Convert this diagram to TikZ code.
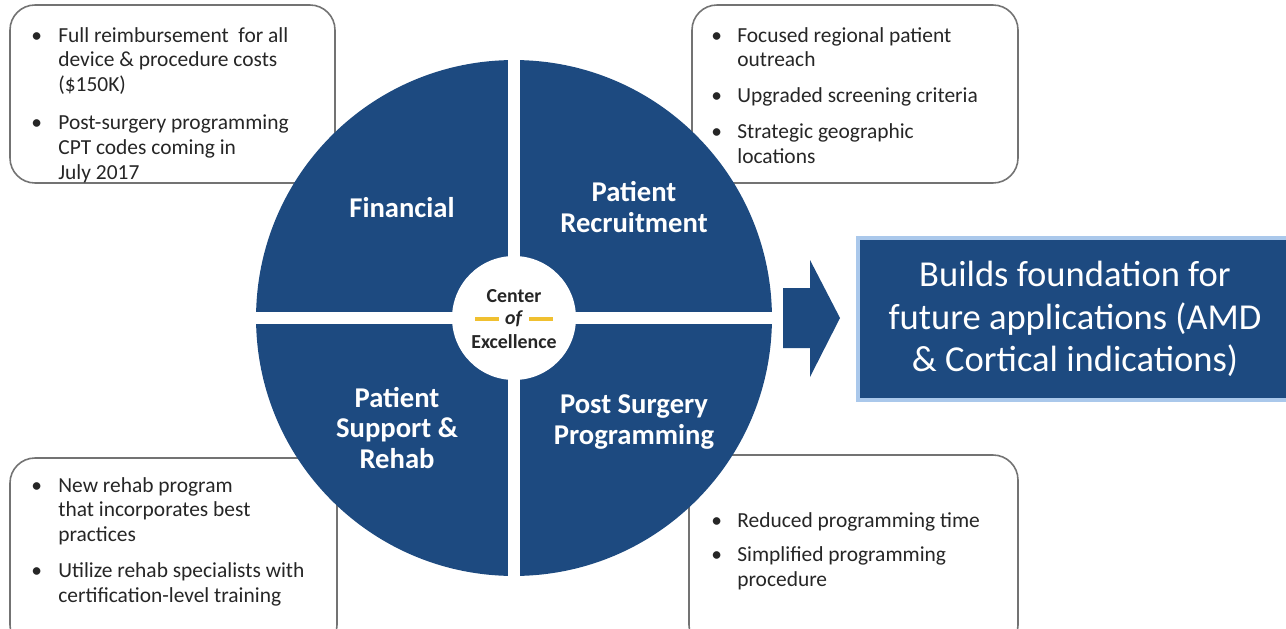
\documentclass[tikz,border=0pt]{standalone}
\usepackage{fontspec}
\setmainfont{Carlito}
\definecolor{coeblue}{RGB}{29,74,128}
\definecolor{coegold}{RGB}{240,192,48}
\definecolor{coeglow}{RGB}{170,200,235}
\begin{document}
\begin{tikzpicture}[x=0.02cm,y=-0.02cm,
	infobox/.style={draw=black!55,line width=0.9pt,fill=white,rounded corners=0.5cm},
	quarter/.style={text=white,font=\fontsize{16.3}{17.6}\selectfont\bfseries,align=center},
	bullets/.style={anchor=base west,inner sep=0pt,text=black!85,font=\fontsize{12.2}{14.2}\selectfont},
	coetext/.style={inner sep=0pt,text=black!85,font=\fontsize{11.3}{12}\selectfont\bfseries}]
	\useasboundingbox (0,0) rectangle (1286,629);
	\fill[white] (0,0) rectangle (1286,629);

	% boxes with bullet points
	\draw[infobox] (10,5) rectangle (335,183);
	\draw[infobox] (692,5) rectangle (1018,183);
	\draw[infobox] (10,458) rectangle (337,650);
	\draw[infobox] (689,455) rectangle (1018,650);

	\node[bullets] (finlist) at (31,42) {\begin{tabular}[t]{@{}p{0.54cm}@{}l@{}}
		\textbullet & Full reimbursement\ \ for all\\
		& device \& procedure costs\\
		& (\$150K)\\[0.26cm]
		\textbullet & Post-surgery programming\\
		& CPT codes coming in\\
		& July 2017
	\end{tabular}};
	\node[bullets] (reclist) at (711,42) {\begin{tabular}[t]{@{}p{0.52cm}@{}l@{}}
		\textbullet & Focused regional patient\\
		& outreach\\[0.22cm]
		\textbullet & Upgraded screening criteria\\[0.22cm]
		\textbullet & Strategic geographic\\
		& locations
	\end{tabular}};
	\node[bullets] (rehablist) at (31,492) {\begin{tabular}[t]{@{}p{0.54cm}@{}l@{}}
		\textbullet & New rehab program\\
		& that incorporates best\\
		& practices\\[0.22cm]
		\textbullet & Utilize rehab specialists with\\
		& certification-level training
	\end{tabular}};
	\node[bullets] (proglist) at (711,527) {\begin{tabular}[t]{@{}p{0.52cm}@{}l@{}}
		\textbullet & Reduced programming time\\[0.2cm]
		\textbullet & Simplified programming\\
		& procedure
	\end{tabular}};

	% the big circle in four parts
	\fill[coeblue] (514,318) circle (5.16cm);
	\fill[white] (508,50) rectangle (520,590);
	\fill[white] (250,312) rectangle (780,324);
	\fill[white] (514,318) circle (1.24cm);

	\node[quarter] (fin) at (402,208) {Financial};
	\node[quarter] (rec) at (634,207) {Patient\\Recruitment};
	\node[quarter] (rehab) at (397,428) {Patient\\Support \&\\Rehab};
	\node[quarter] (prog) at (634,422) {Post Surgery\\Programming};

	\node[coetext] (ctrtop) at (514,296) {Center};
	\node[coetext] (ctrof) at (514,319) {\textit{of}};
	\node[coetext] (ctrbot) at (514,342) {Excellence};
	\draw[coegold,line width=1.8pt] ([xshift=-0.12cm]ctrof.west) -- ++(-24,0);
	\draw[coegold,line width=1.8pt] ([xshift=0.12cm]ctrof.east) -- ++(24,0);

	% arrow and result
	\fill[coeblue] (783,288) -- (810,288) -- (810,260) -- (840,318)
		-- (810,377) -- (810,348) -- (783,348) -- cycle;
	\draw[coeglow,fill=coeblue,line width=2pt] (858,238) rectangle (1300,400);
	\node[text=white,align=center,font=\fontsize{20.8}{24}\selectfont] (result) at (1075,319)
		{Builds foundation for\\future applications (AMD\\\& Cortical indications)};
\end{tikzpicture}
\end{document}
